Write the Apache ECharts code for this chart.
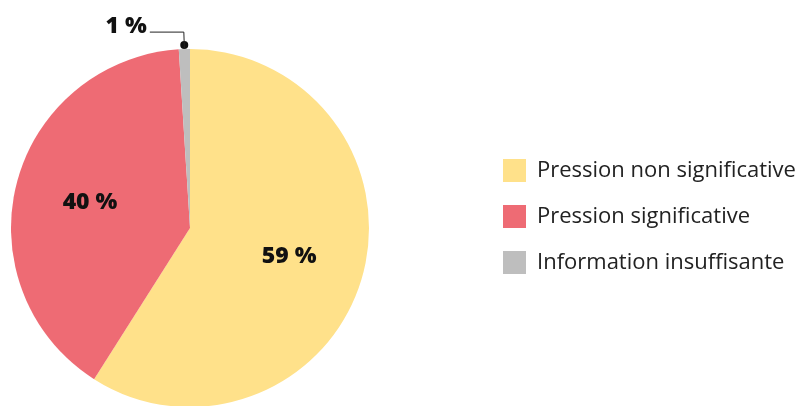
<!DOCTYPE html>
<html><head><meta charset="utf-8">
<script src="https://cdn.jsdelivr.net/npm/echarts@6/dist/echarts.min.js"></script>
<style>html,body{margin:0;padding:0;background:#fff}#c{width:799px;height:406px}</style>
</head><body><div id="c"></div>
<script>
const categories = ['Pression non significative', 'Pression significative', 'Information insuffisante'];
const values = [59, 40, 1];
const colors = ['#FFE18A', '#EE6B74', '#BEBEBE'];
const labels = ['59 %', '40 %', '1 %'];

const FONT = 'Open Sans';
const chart = echarts.init(document.getElementById('c'), null, {renderer: 'canvas'});
const center = ['190', '228'];
const R = 179;

const mainData = categories.map((n, i) => ({
  name: n, value: values[i], itemStyle: {color: colors[i]},
  label: i === 2 ? {show: true, formatter: '{a|' + labels[i] + '}\n{b|}'} : {show: false},
  labelLine: {show: i === 2}
}));
const labelData = categories.map((n, i) => ({
  name: n, value: values[i],
  label: {show: i !== 2, formatter: labels[i]}
}));

chart.setOption({
  animation: false,
  legend: {
    orient: 'vertical', left: 503, top: 159, padding: 0,
    itemWidth: 23, itemHeight: 23, itemGap: 23,
    icon: 'rect',
    data: categories,
    textStyle: {fontFamily: FONT, fontSize: 22, color: '#222', padding: [0, 0, 0, 6]}
  },
  series: [{
    type: 'pie', center: center, radius: [0, R],
    startAngle: 90, clockwise: true, silent: true,
    data: mainData,
    label: {
      position: 'outside', distanceToLabelLine: 3,
      rich: {
        a: {fontFamily: FONT, fontWeight: 800, fontSize: 23, color: '#111', lineHeight: 20, align: 'right'},
        b: {lineHeight: 11, fontSize: 8}
      }
    },
    labelLine: {length: 17, length2: 34, smooth: false, lineStyle: {color: '#222', width: 1}}
  }, {
    type: 'pie', center: center, radius: [0, 2 * R * 0.56],
    startAngle: 90, clockwise: true, silent: true,
    legendHoverLink: false,
    itemStyle: {color: 'rgba(0,0,0,0)'},
    data: labelData,
    label: {position: 'inside', fontFamily: FONT, fontWeight: 800, fontSize: 23, color: '#111'},
    labelLine: {show: false}
  }]
});

// dot at start of leader line, derived from library layout
const lay = chart.getModel().getSeriesByIndex(0).getData().getItemLayout(2);
const mid = (lay.startAngle + lay.endAngle) / 2;
const rr = lay.r + 4;
chart.setOption({
  graphic: [{type: 'circle', shape: {cx: lay.cx + rr * Math.cos(mid), cy: lay.cy + rr * Math.sin(mid), r: 4}, style: {fill: '#111'}}]
});
</script></body></html>
